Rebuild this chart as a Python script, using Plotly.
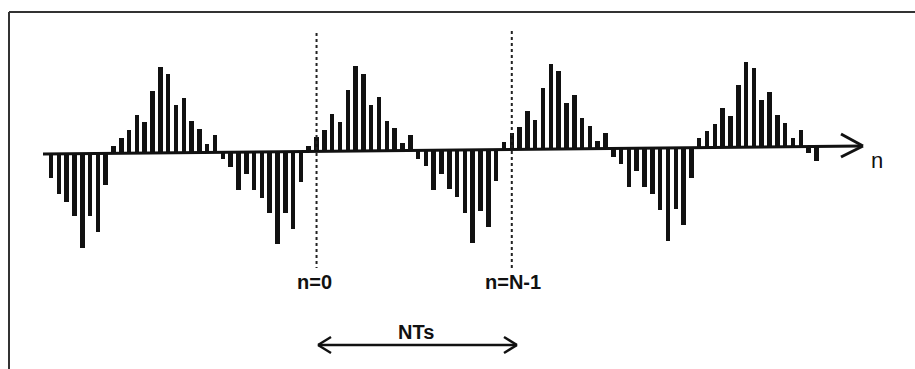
import plotly.graph_objects as go

# ---- data: sample heights of the periodic discrete signal x[n] ----
sample_index = list(range(99))
sample_value = [
    -73, -120, -143, -188, -283, -188, -236, -96,
    22, 47, 70, 115, 94, 187, 259, 237, 142, 165, 95, 72, 25, 52,
    -20, -45, -113, -66, -113, -138, -183, -276, -183, -231, -92,
    17, 42, 65, 112, 87, 182, 255, 232, 137, 160, 90, 68, 22, 45,
    -25, -48, -118, -70, -118, -140, -188, -278, -185, -233, -93,
    22, 48, 68, 116, 88, 185, 255, 233, 138, 163, 93, 68, 23, 48,
    -25, -47, -117, -67, -117, -137, -187, -279, -184, -232, -90,
    28, 50, 71, 118, 95, 188, 256, 236, 141, 166, 95, 71, 26, 51,
    -20, -44,
]
marker_n0 = 34          # sample where n=0 is marked
marker_nN1 = 59         # sample where n=N-1 is marked
label_n0 = "n=0"
label_nN1 = "n=N-1"
label_period = "NTs"
label_axis = "n"

# ---- layout helpers (pixel geometry of the 915x369 picture) ----
W, H = 915, 369
X0, DX = 51.0, 7.81        # pixel x of sample 0, pixels per sample
Y0, SY = 154.0, 3.0        # pixel y of the baseline, value units per pixel
TILT = 0.23                # slight scan rotation of the baseline (value units per sample)

def kx(px):
    return (px - X0) / DX

def vy(py):
    return (Y0 - py) * SY

bases = [TILT * k for k in sample_index]

fig = go.Figure()
fig.add_trace(go.Bar(
    x=sample_index, y=sample_value, base=bases,
    width=0.58, marker=dict(color="#111111", line=dict(width=0)),
    hoverinfo="skip", showlegend=False,
))

shapes = []
# frame (top and left edge)
shapes.append(dict(type="line", xref="paper", yref="paper", x0=9 / W, x1=1.0,
                   y0=1 - 12 / H, y1=1 - 12 / H, line=dict(color="#333333", width=2)))
shapes.append(dict(type="line", xref="paper", yref="paper", x0=9 / W, x1=9 / W,
                   y0=1 - 12 / H, y1=0, line=dict(color="#333333", width=2)))
# horizontal n axis with arrow head
ax_x0, ax_y0, ax_x1, ax_y1 = 43, 154, 862, 146
shapes.append(dict(type="line", x0=kx(ax_x0), y0=vy(ax_y0), x1=kx(ax_x1), y1=vy(ax_y1),
                   line=dict(color="#111111", width=3)))
for dy in (-12, 11):
    shapes.append(dict(type="line", x0=kx(ax_x1 - 21), y0=vy(ax_y1 + dy), x1=kx(ax_x1 + 1), y1=vy(ax_y1),
                       line=dict(color="#111111", width=3)))
# dotted markers for n=0 and n=N-1
for k, top in ((marker_n0, 33), (marker_nN1, 31)):
    shapes.append(dict(type="line", x0=k, x1=k, y0=vy(top), y1=vy(268),
                       line=dict(color="#222222", width=2, dash="dot")))
# double arrow for the period NTs
ar_x0, ar_x1, ar_y = 318, 517, 345
shapes.append(dict(type="line", x0=kx(ar_x0), x1=kx(ar_x1), y0=vy(ar_y), y1=vy(ar_y),
                   line=dict(color="#111111", width=2.5)))
for tip, back in ((ar_x0, ar_x0 + 13), (ar_x1, ar_x1 - 13)):
    for dy in (-8, 8):
        shapes.append(dict(type="line", x0=kx(back), y0=vy(ar_y + dy), x1=kx(tip), y1=vy(ar_y),
                           line=dict(color="#111111", width=2.5)))

font = dict(family="Liberation Sans, Arial, sans-serif", size=20, color="#111111", weight="bold")
annotations = [
    dict(x=kx(314), y=vy(282), text=label_n0, showarrow=False, font=font),
    dict(x=kx(513), y=vy(282), text=label_nN1, showarrow=False, font=font),
    dict(x=kx(416), y=vy(332), text=label_period, showarrow=False, font=font),
    dict(x=kx(877), y=vy(160), text=label_axis, showarrow=False,
         font=dict(family="Liberation Sans, Arial, sans-serif", size=22, color="#111111")),
]

fig.update_layout(
    width=W, height=H,
    margin=dict(l=0, r=0, t=0, b=0),
    paper_bgcolor="white", plot_bgcolor="white",
    bargap=0,
    xaxis=dict(range=[kx(0), kx(W)], visible=False, fixedrange=True),
    yaxis=dict(range=[vy(H), vy(0)], visible=False, fixedrange=True),
    shapes=shapes, annotations=annotations,
    showlegend=False,
)

fig.write_html("out.html", config={"displayModeBar": False},
               post_script="document.body.style.margin='0';document.body.style.overflow='hidden';")
